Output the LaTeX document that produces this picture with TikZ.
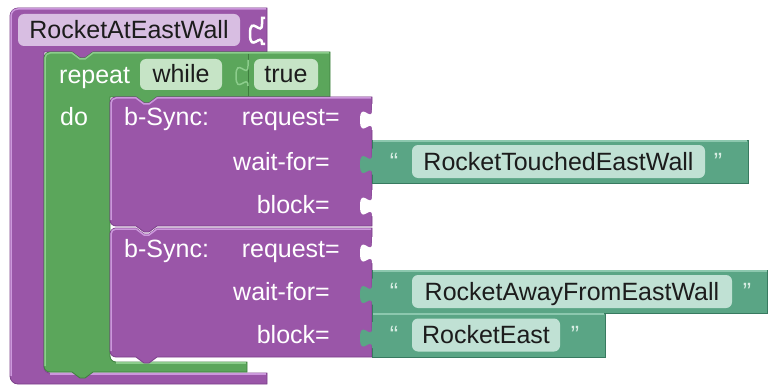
\documentclass[tikz,border=0pt]{standalone}
\usepackage{fontspec}
\setmainfont{Liberation Sans}
\usepackage{xcolor}
\usepackage{tikz}
\definecolor{procfill}{RGB}{154,86,168}
\definecolor{procdark}{RGB}{122,62,136}
\definecolor{proclight}{RGB}{204,152,220}
\definecolor{procname}{RGB}{216,190,226}
\definecolor{loopfill}{RGB}{91,166,91}
\definecolor{loopdark}{RGB}{62,126,62}
\definecolor{looplight}{RGB}{140,205,140}
\definecolor{loopfield}{RGB}{198,228,198}
\definecolor{strfill}{RGB}{90,165,133}
\definecolor{strdark}{RGB}{56,122,96}
\definecolor{strlight}{RGB}{140,200,174}
\definecolor{strfield}{RGB}{192,225,212}
\definecolor{strquote}{RGB}{214,236,226}
\definecolor{fieldtext}{RGB}{28,28,28}
\newcommand{\blockfont}{\fontsize{25}{29}\selectfont}
% puzzle tab on a right edge, going down from (#1,#2)
\newcommand{\tabcurve}[2]{-- (#1,#2+6) .. controls (#1,#2+19.5) and (#1-12,#2-4) .. (#1-12,#2+16) .. controls (#1-12,#2+36) and (#1,#2+13) .. (#1,#2+26)}
\tikzset{
  lbl/.style={
    inner sep=0pt,
    text=white,
    text height=17pt,
    text depth=0pt,
    font=\blockfont
  },
  field/.style={
    lbl,
    rounded corners=6pt,
    minimum height=32pt,
    text=fieldtext
  },
  namebox/.style={field, fill=procname},
  loopbox/.style={field, fill=loopfield, minimum height=31pt},
  strbox/.style={field, fill=strfield, minimum height=33pt},
  qmark/.style={lbl, text=strquote},
  edge line/.style={line width=0.8pt},
  hilite/.style={line width=1.5pt}
}

\begin{document}
\begin{tikzpicture}[x=1pt, y=-1pt]
  \useasboundingbox (0,0) rectangle (768,385);

  % procedure block
  \filldraw[fill=procfill, draw=procdark, edge line]
    (10,16) .. controls (10,11.6) and (13.6,8) .. (18,8) -- (267,8) -- (267,52)
    -- (93,52) -- (85,58) -- (80,58) -- (72,52) -- (44,52) -- (44,367)
    .. controls (44,370.3) and (46.7,373) .. (50,373) -- (267,373) -- (267,384)
    -- (18,384) .. controls (13.6,384) and (10,380.4) .. (10,376) -- cycle;
  \draw[proclight, hilite] (11,376) -- (11,16) .. controls (11,12.1) and (14.1,9) .. (18,9) -- (266,9);
  \draw[proclight, hilite] (50,374) -- (266,374);
  % empty input next to the name
  \draw[white, line width=2.5pt] (265,18) -- (262,18) \tabcurve{262}{18} -- (265,44);

  % repeat while block
  \filldraw[fill=loopfill, draw=loopdark, edge line]
    (44,58) .. controls (44,54.7) and (46.7,52) .. (50,52) -- (72,52) -- (80,58) -- (85,58) -- (93,52)
    -- (330,52) -- (330,97) -- (157,97) -- (149,103) -- (144,103) -- (136,97) -- (110,97)
    -- (110,356) .. controls (110,359.3) and (112.7,362) .. (116,362) -- (247,362) -- (247,372)
    -- (93,372) -- (85,378) -- (80,378) -- (72,372) -- (50,372)
    .. controls (46.7,372) and (44,369.3) .. (44,366) -- cycle;
  \draw[looplight, hilite] (45,366) -- (45,58) .. controls (45,55.2) and (47.2,53) .. (50,53)
    -- (72,53) -- (80,59) -- (85,59) -- (93,53) -- (329,53);
  \draw[looplight, hilite] (116,363) -- (246,363);
  % the 'true' block plugged in
  \draw[loopdark, line width=1pt] (248,54) -- (248,96);
  \draw[looplight, line width=1.5pt] (248,60) \tabcurve{248}{60};

  % two b-Sync blocks
  \foreach \t in {97,228} {
    \filldraw[fill=procfill, draw=procdark, edge line]
      (110,\t+6) .. controls (110,\t+2.7) and (112.7,\t) .. (116,\t) -- (136,\t) -- (144,\t+6) -- (149,\t+6) -- (157,\t)
      -- (372,\t) -- (372,\t+129) -- (157,\t+129) -- (149,\t+135) -- (144,\t+135) -- (136,\t+129)
      -- (116,\t+129) .. controls (112.7,\t+129) and (110,\t+126.3) .. (110,\t+123) -- cycle;
    \draw[proclight, hilite] (111,\t+123) -- (111,\t+6) .. controls (111,\t+3.2) and (113.2,\t+1) .. (116,\t+1)
      -- (136,\t+1) -- (144,\t+7) -- (149,\t+7) -- (157,\t+1) -- (371,\t+1);
  }
  % empty sockets
  \foreach \y in {104,190,237}
    \fill[white] (373,\y) -- (372,\y) \tabcurve{372}{\y} -- (373,\y+26) -- cycle;

  % text blocks
  \filldraw[fill=strfill, draw=strdark, edge line] (372,140) rectangle (748,183);
  \filldraw[fill=strfill, draw=strdark, edge line] (372,270) rectangle (767.5,313);
  \filldraw[fill=strfill, draw=strdark, edge line] (372,313) rectangle (605,357);
  \foreach \y in {148.5,278.5,322}
    \fill[strfill] (373,\y) -- (372,\y) \tabcurve{372}{\y} -- (373,\y+26) -- cycle;
  \draw[strlight, hilite] (373,141) -- (747,141);
  \draw[strlight, hilite] (373,271) -- (767,271);
  \draw[strlight, hilite] (373,314) -- (604,314);

  % labels and fields
  \node[namebox, minimum width=222pt] (procname) at (129,30) {RocketAtEastWall};
  \node[lbl, anchor=west] (repeatlbl) at (59,75.5) {repeat};
  \node[loopbox, minimum width=82pt] (whilefield) at (181,74.5) {while};
  \node[loopbox, minimum width=64pt] (truefield) at (286,74.5) {true};
  \node[lbl, anchor=west] (dolbl) at (60,117.5) {do};

  \node[lbl, anchor=west] (sync1) at (124,117.5) {b-Sync:};
  \node[lbl, anchor=east] (req1) at (340,117.5) {request=};
  \node[lbl, anchor=east] (wait1) at (330,161.5) {wait-for=};
  \node[lbl, anchor=east] (block1) at (330,205) {block=};

  \node[lbl, anchor=west] (sync2) at (124,248.5) {b-Sync:};
  \node[lbl, anchor=east] (req2) at (340,248.5) {request=};
  \node[lbl, anchor=east] (wait2) at (330,291.5) {wait-for=};
  \node[lbl, anchor=east] (block2) at (330,335) {block=};

  \node[strbox, minimum width=293pt] (str1) at (558.5,161.5) {RocketTouchedEastWall};
  \node[strbox, minimum width=320pt] (str2) at (572,291.5) {RocketAwayFromEastWall};
  \node[strbox, minimum width=148pt] (str3) at (486,335) {RocketEast};
  \node[qmark] (open1) at (394,161.5) {“};
  \node[qmark] (close1) at (718,161.5) {”};
  \node[qmark] (open2) at (394,291.5) {“};
  \node[qmark] (close2) at (747,291.5) {”};
  \node[qmark] (open3) at (394,335) {“};
  \node[qmark] (close3) at (575,335) {”};
\end{tikzpicture}
\end{document}
